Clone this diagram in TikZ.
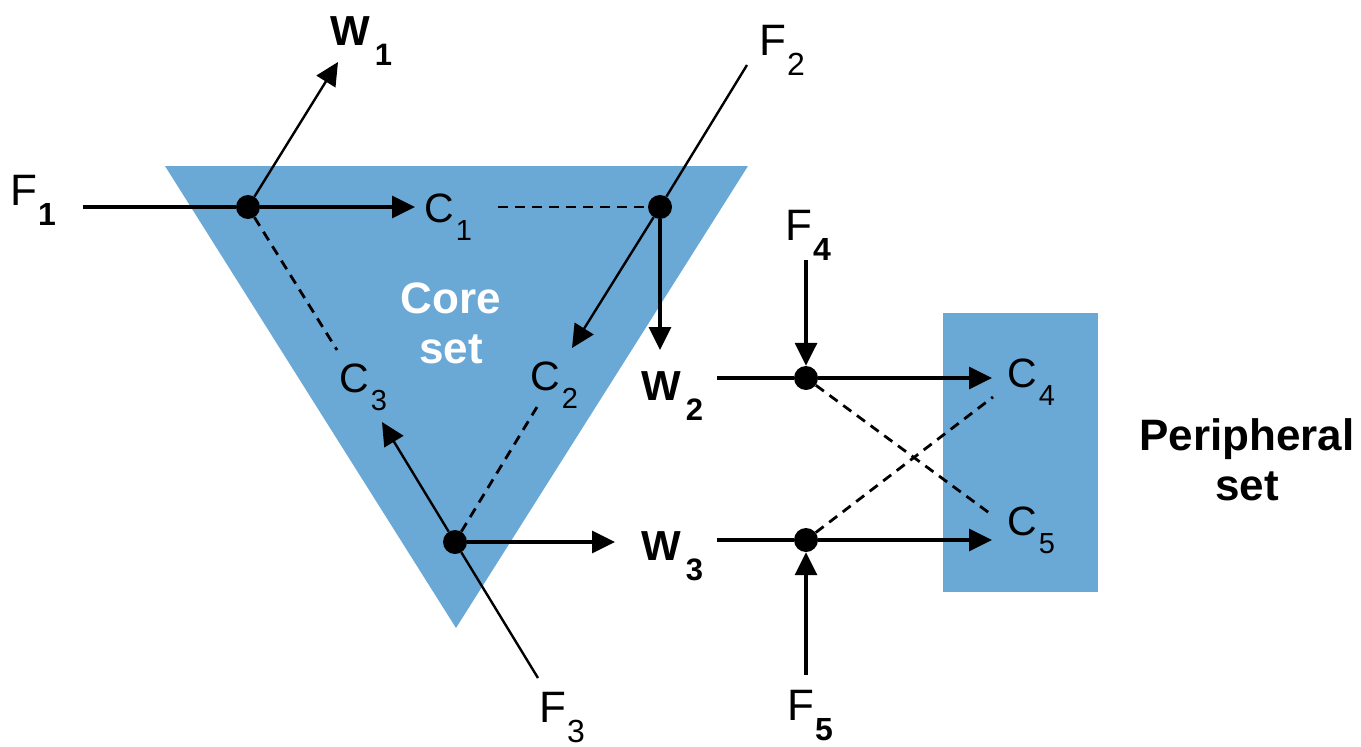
\documentclass[tikz,border=0pt]{standalone}
\usepackage{fontspec}
\setmainfont{Liberation Sans}
\usetikzlibrary{arrows.meta}
\definecolor{setblue}{RGB}{106,168,214}
\newcommand\fsubr[1]{\kern1pt\raisebox{-20pt}{\fontsize{32}{32}\selectfont #1}}
\newcommand\fsubb[1]{\kern1pt\raisebox{-20pt}{\fontsize{32}{32}\selectfont\bfseries #1}}
\newcommand\csub[1]{\kern2pt\raisebox{-18pt}{\fontsize{29}{29}\selectfont #1}}
\newcommand\wsubr[1]{\kern5pt\raisebox{-20pt}{\fontsize{31}{31}\selectfont #1}}
\newcommand\wsubb[1]{\kern5pt\raisebox{-20pt}{\fontsize{31}{31}\selectfont\bfseries #1}}
\begin{document}
\begin{tikzpicture}[x=1pt,y=-1pt,
  solid conn/.style={line width=3.4pt},
  slant conn/.style={line width=2.4pt},
  arr/.style={-{Triangle[length=23pt,width=22pt]}},
  dashline/.style={line width=2.8pt,dash pattern=on 10pt off 7pt},
  dot/.style={circle,fill=black,inner sep=0pt,minimum size=24pt},
  flab/.style={inner sep=0pt,anchor=base west,font=\fontsize{44}{46}\selectfont},
  wlab/.style={inner sep=0pt,anchor=base west,font=\fontsize{42}{44}\selectfont\bfseries},
  clab/.style={inner sep=0pt,anchor=base west,font=\fontsize{41}{43}\selectfont},
  setlab/.style={inner sep=0pt,align=center,font=\fontsize{44}{50}\selectfont\bfseries},
]
\useasboundingbox (0,0) rectangle (1361,747);

% sets
\fill[setblue] (165,166) -- (748,166) -- (456,628) -- cycle;
\fill[setblue] (943,313) rectangle (1098,592);

% labels
\node[flab] (F1) at (10,205) {F\fsubb{1}};
\node[wlab] (W1) at (330,45) {W\wsubb{1}};
\node[clab] (C1) at (424,222) {C\csub{1}};
\node[flab] (F2) at (759,55) {F\fsubr{2}};
\node[clab] (C2) at (530,390) {C\csub{2}};
\node[clab] (C3) at (339,392) {C\csub{3}};
\node[wlab] (W2) at (641,400) {W\wsubr{2}};
\node[wlab] (W3) at (641,560) {W\wsubb{3}};
\node[flab] (F3) at (539,722) {F\fsubr{3}};
\node[flab] (F4) at (785,240) {F\fsubb{4}};
\node[flab] (F5) at (787,720) {F\fsubb{5}};
\node[clab] (C4) at (1007,387) {C\csub{4}};
\node[clab] (C5) at (1007,535) {C\csub{5}};
\node[setlab,text=white,anchor=base] (core) at (451,363) {Core\\set};
\node[setlab,anchor=base] (peri) at (1247,500) {Peripheral\\set};

% junction dots (named)
\node[dot] (d1) at (248,207) {};
\node[dot] (d2) at (660,207) {};
\node[dot] (d3) at (455,542) {};
\node[dot] (d4) at (806,378) {};
\node[dot] (d5) at (806,540) {};

% connector end points
\coordinate (f1s) at (83,207);
\coordinate (c1t) at (415,207);
\coordinate (w1t) at (338,62);
\coordinate (f2s) at (747,65);
\coordinate (c2t) at (572,348);
\coordinate (w2t) at (660,350);
\coordinate (c1d) at (498,207);
\coordinate (c3d) at (337,350);
\coordinate (c3t) at (382,422);
\coordinate (f3s) at (538,678);
\coordinate (w3t) at (615,542);
\coordinate (c2d) at (537,407);
\coordinate (w2s) at (717,378);
\coordinate (f4s) at (806,260);
\coordinate (c4t) at (992,378);
\coordinate (w3s) at (717,540);
\coordinate (f5s) at (806,675);
\coordinate (c5t) at (992,540);
\coordinate (c5d) at (992,515);
\coordinate (c4d) at (993,397);

% dashed links
\draw[dashline] (c1d) -- (d2);
\draw[dashline] (d1) -- (c3d);
\draw[dashline] (d3) -- (c2d);
\draw[dashline] (d4) -- (c5d);
\draw[dashline] (d5) -- (c4d);

% solid connectors
\draw[solid conn] (f1s) -- (d1);
\draw[solid conn,arr] (d1) -- (c1t);
\draw[slant conn,arr] (d1) -- (w1t);
\draw[slant conn] (f2s) -- (d2);
\draw[slant conn,arr] (d2) -- (c2t);
\draw[solid conn,arr] (d2) -- (w2t);
\draw[slant conn] (f3s) -- (d3);
\draw[slant conn,arr] (d3) -- (c3t);
\draw[solid conn,arr] (d3) -- (w3t);
\draw[solid conn] (w2s) -- (d4);
\draw[solid conn,arr] (f4s) -- (d4);
\draw[solid conn,arr] (d4) -- (c4t);
\draw[solid conn] (w3s) -- (d5);
\draw[solid conn,arr] (f5s) -- (d5);
\draw[solid conn,arr] (d5) -- (c5t);
\end{tikzpicture}
\end{document}
